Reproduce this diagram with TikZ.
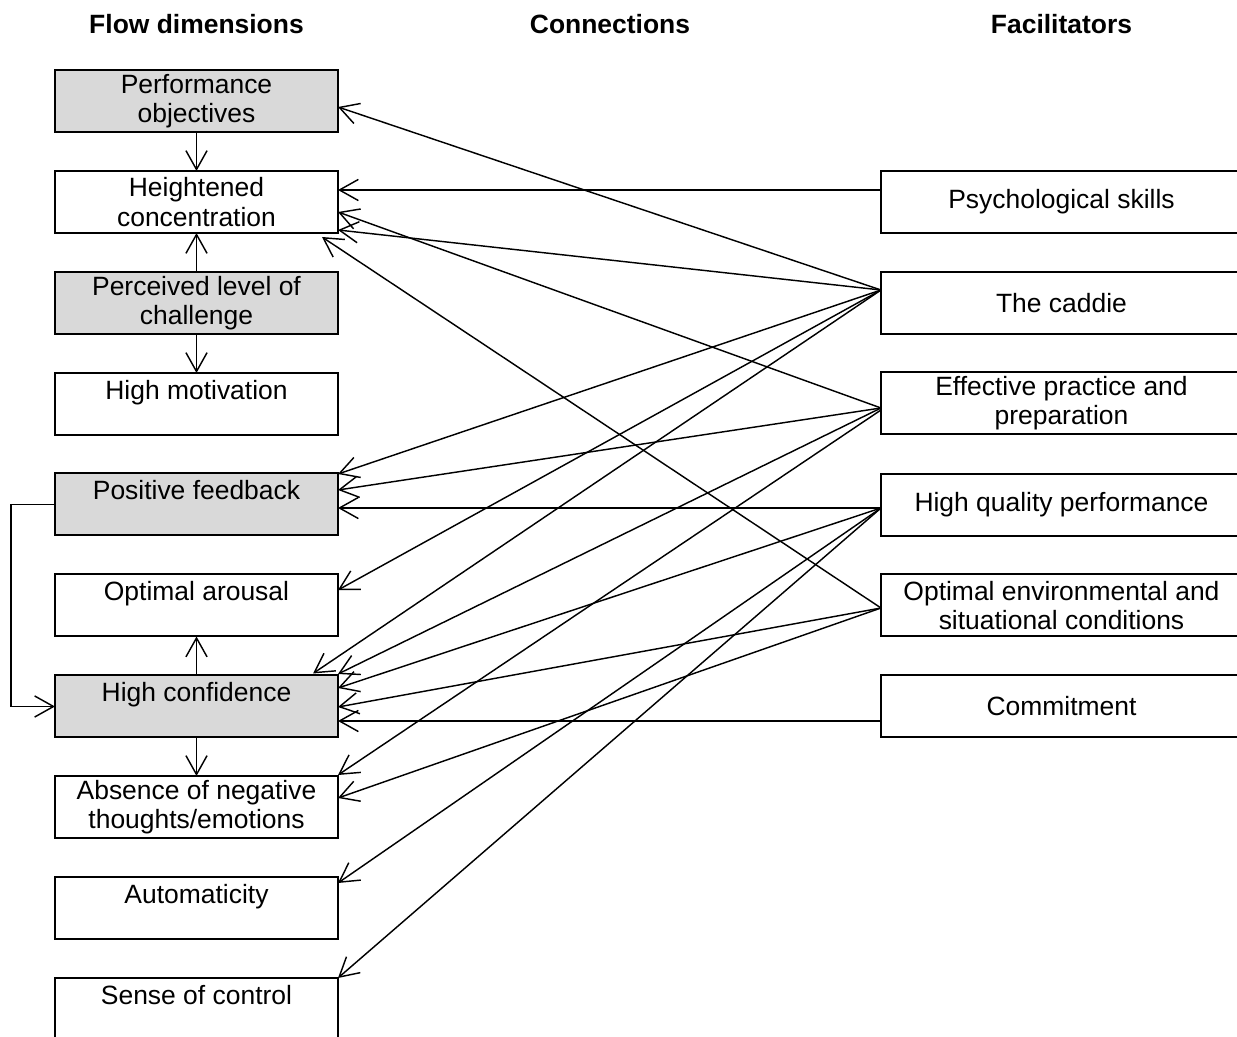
\documentclass[tikz,border=0pt]{standalone}
\usepackage{fontspec}
\setmainfont{Liberation Sans}
\usetikzlibrary{arrows.meta,calc}
\tikzset{flowbox/.style={draw,line width=0.9pt,minimum width=127.35pt,minimum height=27.9pt,inner sep=0pt,outer sep=0pt,align=center,font=\fontsize{11.9}{13.1}\selectfont},
  shaded/.style={flowbox,fill=gray!30},
  facbox/.style={flowbox,minimum width=162.45pt},
  heading/.style={font=\fontsize{11.9}{13.1}\selectfont\bfseries},
  link/.style={-{Straight Barb[length=8.5pt,width=9.5pt]}}}

\begin{document}
\begin{tikzpicture}[x=0.45pt,y=-0.45pt,line width=0.65pt]
  \useasboundingbox (0,0) rectangle (1237,1037);
  \node[heading] (hflow) at (196.5,24) {Flow dimensions};
  \node[heading] (hconn) at (610,24) {Connections};
  \node[heading] (hfac) at (1061.5,24) {Facilitators};
  % flow dimensions
  \node[shaded] (perf) at (196.5,101.5) {Performance\\objectives};
  \node[flowbox] (conc) at (196.5,202) {Heightened\\concentration};
  \node[shaded] (chal) at (196.5,303.5) {Perceived level of\\challenge};
  \node[flowbox] (motiv) at (196.5,404) {High motivation\\~};
  \node[shaded] (feed) at (196.5,504.5) {Positive feedback\\~};
  \node[flowbox] (arous) at (196.5,605.5) {Optimal arousal\\~};
  \node[shaded] (conf) at (196.5,706.5) {High confidence\\~};
  \node[flowbox] (absn) at (196.5,807) {Absence of negative\\thoughts/emotions};
  \node[flowbox] (auto) at (196.5,908) {Automaticity\\~};
  \node[flowbox] (ctrl) at (196.5,1009) {Sense of control\\~};
  % facilitators
  \node[facbox] (psych) at (1061.5,202) {Psychological skills};
  \node[facbox] (caddie) at (1061.5,303) {The caddie};
  \node[facbox] (prac) at (1061.5,403.5) {Effective practice and\\preparation};
  \node[facbox] (qual) at (1061.5,505) {High quality performance};
  \node[facbox] (envr) at (1061.5,605.5) {Optimal environmental and\\situational conditions};
  \node[facbox] (commit) at (1061.5,706) {Commitment};

  \draw[link] (perf) -- (conc);
  \draw[link] (chal) -- (conc);
  \draw[link] (chal) -- (motiv);
  \draw[link] (conf) -- (arous);
  \draw[link] (conf) -- (absn);
  \draw[link] (feed.west) -- ++(-44,0) |- (conf.west);

  \draw[link] (psych.west |- 0,190) -- (conc.east |- 0,190);
  \draw[link] (caddie.west |- 0,290) -- (perf.east |- 0,107);
  \draw[link] (caddie.west |- 0,290) -- (conc.east |- 0,230);
  \draw[link] (caddie.west |- 0,290) -- (feed.east |- 0,474);
  \draw[link] (caddie.west |- 0,290) -- (arous.east |- 0,590);
  \draw[link] (caddie.west |- 0,290) -- ($(conf.north east)+(-25,-2)$);
  \draw[link] (prac.west |- 0,408) -- (conc.east |- 0,212);
  \draw[link] (prac.west |- 0,408) -- (feed.east |- 0,490);
  \draw[link] (prac.west |- 0,408) -- (conf.east |- 0,674);
  \draw[link] (prac.west |- 0,410) -- (absn.east |- 0,775);
  \draw[link] (qual.west |- 0,508) -- (feed.east |- 0,508);
  \draw[link] (qual.west |- 0,508) -- (conf.east |- 0,688);
  \draw[link] (qual.west |- 0,508) -- (auto.east |- 0,883);
  \draw[link] (qual.west |- 0,508) -- (ctrl.east |- 0,978);
  \draw[link] (envr.west |- 0,608) -- ($(conc.south east)+(-16,4)$);
  \draw[link] (envr.west |- 0,608) -- (conf.east |- 0,707);
  \draw[link] (envr.west |- 0,608) -- (absn.east |- 0,798);
  \draw[link] (commit.west |- 0,721) -- (conf.east |- 0,721);
\end{tikzpicture}
\end{document}
